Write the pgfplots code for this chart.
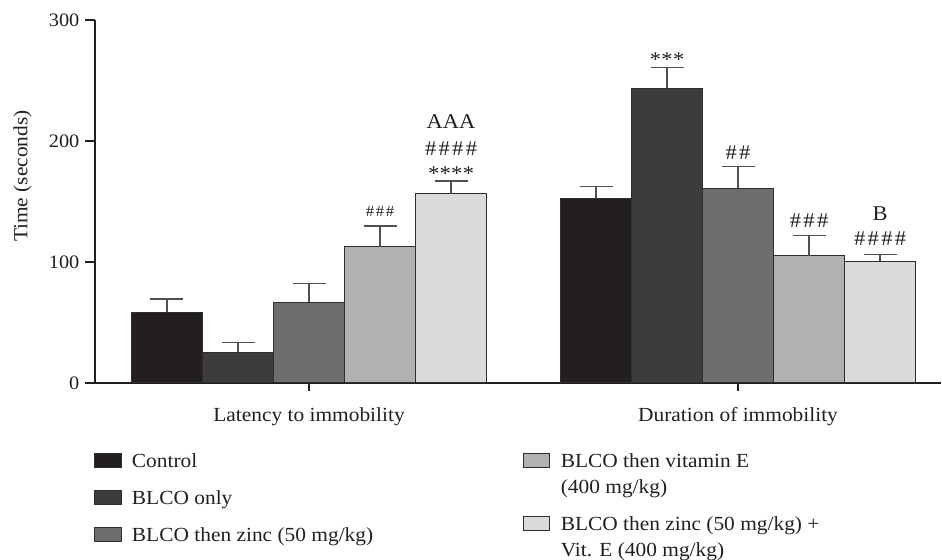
\documentclass[border=0pt]{standalone}
\usepackage{fontspec}
\setmainfont{Liberation Serif}[FakeStretch=1.07]
\usepackage{pgfplots}
\usepackage{pgfplotstable}
\pgfplotsset{compat=1.18}
\definecolor{cA}{HTML}{231F20}
\definecolor{cB}{HTML}{3C3C3C}
\definecolor{cC}{HTML}{6E6E6C}
\definecolor{cD}{HTML}{B0B1B0}
\definecolor{cE}{HTML}{D9DBDA}
\definecolor{txt}{HTML}{231F20}
\definecolor{edge}{HTML}{2E2E2E}
\definecolor{errc}{HTML}{505050}
\newcommand{\hh}{\makebox[6.8pt]{\#}}
\newcommand{\hs}{\makebox[5pt]{\#}}
\newcommand{\st}{\makebox[5.8pt]{*}}

\pgfplotstableread{
x y e
0.669 58.4 11.0
1.669 152.6 9.6
}\tctrl
\pgfplotstableread{
x y e
0.8345 25.3 8.3
1.8345 243.5 17.4
}\tblco
\pgfplotstableread{
x y e
1.0 66.9 15.5
2.0 160.9 18.2
}\tzinc
\pgfplotstableread{
x y e
1.1655 112.7 17.1
2.1655 105.2 16.6
}\tvite
\pgfplotstableread{
x y e
1.331 156.8 10.1
2.331 100.5 5.6
}\tcomb

\pgfplotsset{
  mybar/.style={ybar, bar width=0.1655, bar shift=0pt, draw=edge, line width=0.5pt, forget plot,
    error bars/y dir=plus, error bars/y explicit, error bars/error mark=-,
    error bars/error bar style={color=errc, line width=0.7pt},
    error bars/error mark options={rotate=90, mark size=8.25pt, line width=0.7pt, color=errc}},
}

\begin{document}
\begin{tikzpicture}
\path[use as bounding box] (0pt,0pt) rectangle (471pt,280pt);
\begin{axis}[
  at={(47.5pt,88.5pt)}, anchor=south west,
  scale only axis, width=423pt, height=181.5pt,
  xmin=0.5012, xmax=2.473, ymin=0, ymax=300,
  clip=false,
  axis x line=bottom, axis y line=left,
  axis line style={-, draw=txt, line width=0.6pt},
  xtick={1,2}, xticklabels={Latency to immobility, Duration of immobility},
  ytick={0,100,200,300},
  minor tick num=0,
  tick align=outside,
  tick style={draw=txt, line width=0.6pt},
  xtick style={/pgfplots/major tick length=4pt},
  ytick style={/pgfplots/major tick length=5pt},
  /pgf/number format/assume math mode=true,
  yticklabel style={font=\fontsize{9.5}{11}\selectfont, text=txt},
  xticklabel style={font=\fontsize{10}{12}\selectfont, text=txt, yshift=-4.5pt},
  ylabel={Time (seconds)},
  every axis y label/.style={at={(axis description cs:-0.0855,0.570)}, rotate=90, anchor=center, font=\fontsize{10}{12}\selectfont, text=txt},
  legend style={at={(axis description cs:-0.001,-0.1928)}, anchor=north west, draw=none, fill=none,
    inner sep=0pt, outer sep=0pt, row sep=9.25pt,
    nodes={inner sep=0pt, text height=7pt, text depth=2pt, font=\fontsize{10}{12}\selectfont, text=txt},
    /tikz/every odd column/.append style={column sep=5pt}},
  legend cell align=left,
  legend image code/.code={\draw[#1] (0pt,-2.5pt) rectangle (13.5pt,4.5pt);},
]
\addplot[mybar, fill=cA] table[x=x, y=y, y error=e] {\tctrl};
\addplot[mybar, fill=cB] table[x=x, y=y, y error=e] {\tblco};
\addplot[mybar, fill=cC] table[x=x, y=y, y error=e] {\tzinc};
\addplot[mybar, fill=cD] table[x=x, y=y, y error=e] {\tvite};
\addplot[mybar, fill=cE] table[x=x, y=y, y error=e] {\tcomb};

\addlegendimage{fill=cA, draw=edge, line width=0.4pt}\addlegendentry{Control}
\addlegendimage{fill=cB, draw=edge, line width=0.4pt}\addlegendentry{BLCO only}
\addlegendimage{fill=cC, draw=edge, line width=0.4pt}\addlegendentry{BLCO then zinc (50 mg/kg)}

\begin{scope}[every node/.style={anchor=base, inner sep=0pt, text=txt, font=\fontsize{10.5}{12}\selectfont}]
\node at (axis cs:1.1655,137.2) {\fontsize{7.8}{9}\selectfont\hs\hs\hs};
\node at (axis cs:1.331,167.6) {\st\st\st\st};
\node at (axis cs:1.331,187.6) {\hh\hh\hh\hh};
\node at (axis cs:1.331,210.7) {AAA};
\node at (axis cs:1.8345,261.8) {\st\st\st};
\node at (axis cs:2,184.3) {\hh\hh};
\node at (axis cs:2.1655,128.1) {\hh\hh\hh};
\node at (axis cs:2.331,114.0) {\hh\hh\hh\hh};
\node at (axis cs:2.331,133.9) {B};
\end{scope}
\end{axis}

\begin{axis}[
  at={(47.5pt,88.5pt)}, anchor=south west,
  scale only axis, width=423pt, height=181.5pt,
  xmin=0, xmax=1, ymin=0, ymax=1, hide axis,
  legend style={at={(axis description cs:0.5059,-0.1928)}, anchor=north west, draw=none, fill=none,
    inner sep=0pt, outer sep=0pt, row sep=4pt,
    nodes={inner sep=0pt, text height=7pt, text depth=2pt, font=\fontsize{10}{12}\selectfont, text=txt},
    /tikz/every odd column/.append style={column sep=5.5pt}},
  legend cell align=left,
  legend image code/.code={\draw[#1] (0pt,-2.5pt) rectangle (13pt,4.5pt);},
]
\addlegendimage{fill=cD, draw=edge, line width=0.4pt}\addlegendentry{BLCO then vitamin E}
\addlegendimage{empty legend}\addlegendentry{(400 mg/kg)}
\addlegendimage{empty legend}\addlegendentry[text height=0pt, text depth=1.2pt]{}
\addlegendimage{fill=cE, draw=edge, line width=0.4pt}\addlegendentry{BLCO then zinc (50 mg/kg) +}
\addlegendimage{empty legend}\addlegendentry{Vit. E (400 mg/kg)}
\end{axis}
\end{tikzpicture}
\end{document}
